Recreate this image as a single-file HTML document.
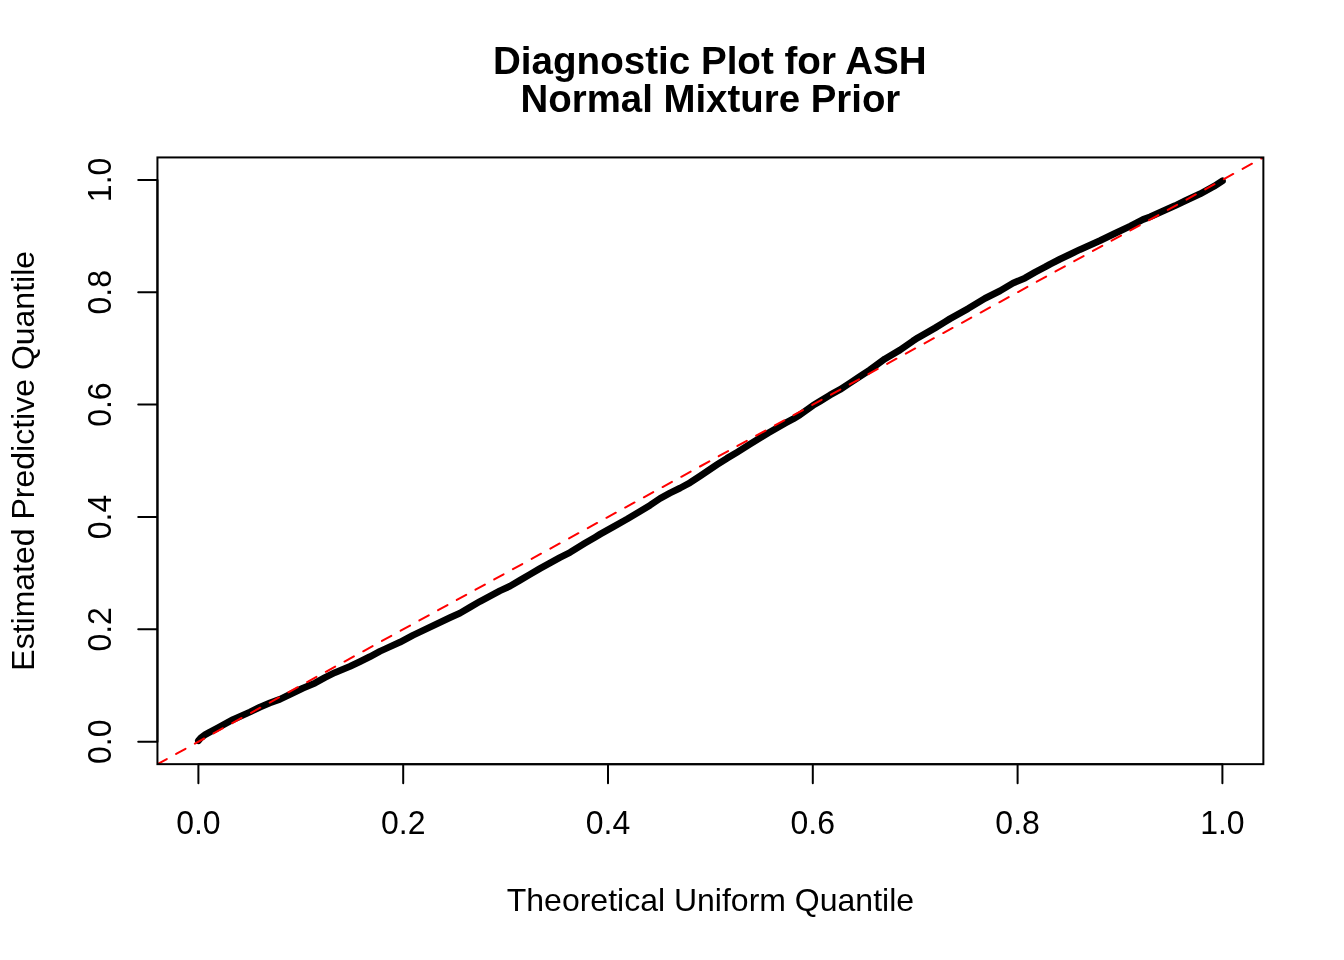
<!DOCTYPE html>
<html><head><meta charset="utf-8"><title>Diagnostic Plot for ASH</title>
<style>html,body{margin:0;padding:0;background:#fff;width:1344px;height:960px;overflow:hidden}svg{display:block;will-change:transform}</style>
</head><body>
<svg width="1344" height="960" viewBox="0 0 1344 960">
<rect width="1344" height="960" fill="#fff"/>
<defs><clipPath id="pc"><rect x="157.44" y="157.44" width="1105.92" height="606.72"/></clipPath></defs>
<polyline points="198.4,740.69 201,737.66 205,734.77 210,731.93 218,727.74 233,719.61 250,711.98 260,707.09 270,702.91 280,699.22 290,694.44 303,688.1 315,683.02 325,677.53 335,672.55 350,666.42 360,661.63 370,656.65 380,651.26 385,649.02 400,642.19 413,635.26 450,617.66 460,613.07 470,607.29 480,601.4 500,590.73 510,586.14 520,580.31 530,574.37 540,568.48 560,557.51 570,552.43 585,543.2 595,537.31 600,534.27 613,526.93 627,519.15 640,511.37 650,505.29 660,498.55 670,493.06 680,488.13 690,482.69 700,476.11 717,464.68 727,458.29 737,452.31 750,444.23 768,433.1 785,423.37 793,419.08 800,414.74 813,405.41 820,401.22 830,395.09 840,389.6 850,383.01 860,376.43 870,369.84 885,358.81 900,349.98 913,340.95 918,337.71 925,333.72 935,327.98 945,321.9 950,318.75 968,308.68 985,298.35 1000,290.92 1013,283.19 1025,278.01 1035,272.32 1045,267.03 1050,264.19 1060,259.11 1070,254.32 1080,249.53 1085,247.39 1100,240.66 1115,233.43 1130,226.2 1143,219.47 1150,216.83 1165,210.2 1175,205.72 1185,200.93 1200,193.9 1214,186.32 1222.4,180.91" fill="none" stroke="#000" stroke-width="6.8" stroke-linejoin="round" stroke-linecap="round"/>
<line x1="157.44" y1="764.16" x2="1263.36" y2="157.44" stroke="#f00" stroke-width="2" stroke-dasharray="10.67 10.67" stroke-linecap="round" clip-path="url(#pc)"/>
<rect x="157.44" y="157.44" width="1105.92" height="606.72" fill="none" stroke="#000" stroke-width="2"/>
<path d="M198.4,764.16H1222.4M198.4,764.16V783.36M403.2,764.16V783.36M608,764.16V783.36M812.8,764.16V783.36M1017.6,764.16V783.36M1222.4,764.16V783.36M157.44,741.69V179.91M157.44,741.69H138.24M157.44,629.33H138.24M157.44,516.98H138.24M157.44,404.62H138.24M157.44,292.27H138.24M157.44,179.91H138.24" fill="none" stroke="#000" stroke-width="2" stroke-linecap="round"/>
<g font-family="Liberation Sans, Arial, Helvetica, sans-serif" fill="#000" text-anchor="middle">
<text transform="translate(709.8,73.75)" font-size="38.6" font-weight="bold">Diagnostic Plot for ASH</text>
<text transform="translate(710.4,111.8)" font-size="38.4" font-weight="bold">Normal Mixture Prior</text>
<text transform="translate(198.4,834.4) scale(1,1.043)" font-size="32">0.0</text>
<text transform="translate(403.2,834.4) scale(1,1.043)" font-size="32">0.2</text>
<text transform="translate(608,834.4) scale(1,1.043)" font-size="32">0.4</text>
<text transform="translate(812.8,834.4) scale(1,1.043)" font-size="32">0.6</text>
<text transform="translate(1017.6,834.4) scale(1,1.043)" font-size="32">0.8</text>
<text transform="translate(1222.4,834.4) scale(1,1.043)" font-size="32">1.0</text>
<text transform="translate(110.8,741.69) rotate(-90) scale(1,1.043)" font-size="32">0.0</text>
<text transform="translate(110.8,629.33) rotate(-90) scale(1,1.043)" font-size="32">0.2</text>
<text transform="translate(110.8,516.98) rotate(-90) scale(1,1.043)" font-size="32">0.4</text>
<text transform="translate(110.8,404.62) rotate(-90) scale(1,1.043)" font-size="32">0.6</text>
<text transform="translate(110.8,292.27) rotate(-90) scale(1,1.043)" font-size="32">0.8</text>
<text transform="translate(110.8,179.91) rotate(-90) scale(1,1.043)" font-size="32">1.0</text>
<text transform="translate(710.4,911.1)" font-size="32">Theoretical Uniform Quantile</text>
<text transform="translate(34.3,460.8) rotate(-90)" font-size="32">Estimated Predictive Quantile</text>
</g></svg>
</body></html>
